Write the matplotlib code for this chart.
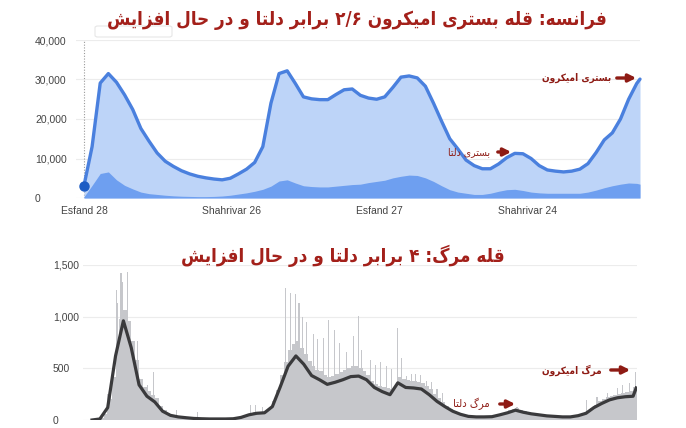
import re
import matplotlib
matplotlib.use('Agg')
import matplotlib.pyplot as plt
from matplotlib.patches import FancyBboxPatch, FancyArrowPatch

W, H = 686, 428

# ---- data: hospitalised (top) ----
hosp_days = list(range(0, 681, 10)) + [684]
hosp_total = [3.1, 13, 29.1, 31.5, 29.3, 26.1, 22.4, 17.6, 14.4, 11.4,
              9.3, 8.0, 6.9, 6.1, 5.5, 5.1, 4.8, 4.6, 5.0, 6.1,
              7.3, 9.0, 13, 24, 31.5, 32.2, 29, 25.6, 25.1, 24.9,
              24.9, 26.2, 27.4, 27.6, 26, 25.3, 25, 25.6, 28, 30.6,
              30.9, 30.4, 28.3, 24, 19.4, 15, 12.4, 9.6, 8.2, 7.4,
              7.4, 8.6, 10.2, 11.3, 11.2, 10, 8.2, 7.1, 6.8, 6.6,
              6.8, 7.3, 8.7, 11.5, 14.7, 16.5, 20, 25, 29, 30.1]
hosp_icu = [0.3, 3.2, 6.2, 6.6, 4.6, 3.2, 2.3, 1.5, 1.1, 0.9,
            0.7, 0.55, 0.45, 0.4, 0.35, 0.35, 0.4, 0.5, 0.7, 1.0,
            1.3, 1.7, 2.2, 3.0, 4.3, 4.6, 3.8, 3.1, 2.9, 2.8,
            2.8, 3.0, 3.2, 3.4, 3.5, 3.9, 4.2, 4.5, 5.1, 5.5,
            5.8, 5.7, 5.1, 4.2, 3.1, 2.1, 1.5, 1.2, 0.9, 0.9,
            1.2, 1.7, 2.1, 2.2, 1.9, 1.5, 1.3, 1.2, 1.2, 1.2,
            1.2, 1.2, 1.5, 2.0, 2.6, 3.1, 3.5, 3.8, 3.7, 3.5]
hosp_ticks = [0, 182, 364, 546]
hosp_ticklabels = ['Esfand 28', 'Shahrivar 26', 'Esfand 27', 'Shahrivar 24']
hosp_yticks = [0, 10000, 20000, 30000, 40000]

# ---- data: deaths (bottom) ----
death_avg_days = list(range(0, 691, 10)) + [694]
death_avg = [0, 10, 120, 620, 960, 700, 340, 230, 175, 85,
             45, 30, 22, 15, 12, 10, 10, 10, 12, 25,
             50, 65, 70, 130, 320, 520, 620, 540, 430, 390,
             345, 365, 390, 420, 425, 390, 315, 275, 245, 360,
             315, 310, 300, 245, 180, 130, 85, 55, 35, 30,
             30, 32, 50, 70, 95, 75, 60, 50, 40, 35,
             30, 30, 42, 65, 120, 160, 195, 215, 225, 230, 310]
death_bar_days = list(range(0, 691, 5))
death_bars = [0, 5, 15, 60, 200, 420, 760, 980, 1060, 960,
              760, 580, 400, 320, 280, 240, 210, 140, 95, 70,
              50, 40, 35, 30, 25, 22, 18, 16, 14, 12,
              12, 11, 11, 10, 12, 12, 15, 22, 30, 45,
              60, 75, 75, 80, 85, 110, 180, 290, 440, 560,
              680, 740, 760, 700, 640, 570, 520, 480, 470, 440,
              420, 430, 450, 460, 480, 500, 520, 520, 500, 470,
              440, 380, 350, 330, 320, 310, 300, 330, 420, 400,
              390, 380, 380, 370, 360, 330, 300, 250, 210, 170,
              140, 110, 90, 70, 58, 48, 42, 36, 33, 31,
              33, 37, 42, 52, 64, 80, 92, 108, 115, 96,
              84, 74, 68, 62, 57, 52, 47, 42, 40, 37,
              36, 36, 40, 45, 55, 66, 88, 120, 150, 180,
              200, 220, 230, 240, 250, 262, 272, 285, 320]
spike_days = [20, 23, 31, 32, 37, 39, 45, 58, 71, 78, 108, 135, 202, 208, 217,
              247, 253, 260, 264, 268, 274, 282, 288, 295, 302, 309,
              316, 324, 333, 340, 344, 355, 361, 368, 375, 382, 389, 395,
              401, 407, 412, 419, 426, 433, 440, 447,
              542, 631, 644, 657, 670, 677, 686, 693]
spike_vals = [250, 360, 1260, 1130, 1420, 1335, 1430, 760, 340, 465, 95, 80, 145, 145, 130,
              1275, 1225, 1220, 1130, 1000, 950, 830, 785, 795, 970, 870,
              745, 655, 815, 1005, 680, 580, 530, 560, 520, 490, 895, 600,
              425, 450, 445, 440, 380, 370, 300, 260,
              130, 195, 225, 260, 310, 340, 355, 460]
death_yticks = [0, 500, 1000, 1500]

title_top = 'فرانسه: قله بستری امیکرون ۲/۶ برابر دلتا و در حال افزایش'
title_bottom = 'قله مرگ: ۴ برابر دلتا و در حال افزایش'
lab_hosp_omicron = 'بستری امیکرون'
lab_hosp_delta = 'بستری دلتا'
lab_death_omicron = 'مرگ امیکرون'
lab_death_delta = 'مرگ دلتا'

# ---- simple Persian shaping (matplotlib has no bidi) ----
FORMS = {
    'ا': ('\uFE8D', '\uFE8E', None, None),
    'ب': ('\uFE8F', '\uFE90', '\uFE91', '\uFE92'),
    'ت': ('\uFE95', '\uFE96', '\uFE97', '\uFE98'),
    'ح': ('\uFEA1', '\uFEA2', '\uFEA3', '\uFEA4'),
    'د': ('\uFEA9', '\uFEAA', None, None),
    'ر': ('\uFEAD', '\uFEAE', None, None),
    'ز': ('\uFEAF', '\uFEB0', None, None),
    'س': ('\uFEB1', '\uFEB2', '\uFEB3', '\uFEB4'),
    'ش': ('\uFEB5', '\uFEB6', '\uFEB7', '\uFEB8'),
    'ف': ('\uFED1', '\uFED2', '\uFED3', '\uFED4'),
    'ق': ('\uFED5', '\uFED6', '\uFED7', '\uFED8'),
    'ل': ('\uFEDD', '\uFEDE', '\uFEDF', '\uFEE0'),
    'م': ('\uFEE1', '\uFEE2', '\uFEE3', '\uFEE4'),
    'ن': ('\uFEE5', '\uFEE6', '\uFEE7', '\uFEE8'),
    'ه': ('\uFEE9', '\uFEEA', '\uFEEB', '\uFEEC'),
    'و': ('\uFEED', '\uFEEE', None, None),
    'ی': ('\uFBFC', '\uFBFD', '\uFBFE', '\uFBFF'),
    'ک': ('\uFB8E', '\uFB8F', '\uFB90', '\uFB91'),
    'گ': ('\uFB92', '\uFB93', '\uFB94', '\uFB95'),
}


def fa(text):
    out = []
    for i, ch in enumerate(text):
        if ch not in FORMS:
            out.append(ch)
            continue
        prev = text[i - 1] if i > 0 else ''
        nxt = text[i + 1] if i + 1 < len(text) else ''
        jp = prev in FORMS and FORMS[prev][2] is not None
        jn = nxt in FORMS and FORMS[ch][2] is not None
        iso, fin, ini, med = FORMS[ch]
        if jp and jn:
            out.append(med)
        elif jp:
            out.append(fin)
        elif jn:
            out.append(ini)
        else:
            out.append(iso)
    s = ''.join(out)
    parts = re.findall(r'[0-9۰-۹/]+|[^0-9۰-۹/]+', s)
    return ''.join(p if re.match(r'[0-9۰-۹]', p) else p[::-1] for p in reversed(parts))


def fx(x):
    return x / W


def fy(y):
    return 1 - y / H


RED = '#a3201a'
DARKRED = '#8e1b14'
plt.rcParams['font.family'] = ['DejaVu Sans']

fig = plt.figure(figsize=(W / 100, H / 100), dpi=100)
fig.patch.set_facecolor('white')

# ---------------- top chart ----------------
ax1 = fig.add_axes([fx(76), fy(198), fx(640) - fx(76), fy(40) - fy(198)])
ax1.set_xlim(-9.8, 684)
ax1.set_ylim(0, 40000)
tot = [v * 1000 for v in hosp_total]
icu = [v * 1000 for v in hosp_icu]
ax1.fill_between(hosp_days, tot, color='#bdd4f8', lw=0, zorder=2)
ax1.fill_between(hosp_days, icu, color='#6e9ff0', lw=0, zorder=3)
ax1.plot(hosp_days, tot, color='#4a80de', lw=2.4, zorder=4, solid_capstyle='round',
         solid_joinstyle='round', clip_on=False)
ax1.plot([hosp_days[0]], [tot[0]], 'o', color='#1d5cc4', ms=6.5, zorder=5, clip_on=False)
ax1.axvline(0, color='#9a9a9a', lw=0.8, ls=(0, (1, 1.5)), zorder=1)
ax1.set_yticks(hosp_yticks)
ax1.set_yticklabels([f'{v:,}' for v in hosp_yticks], ha='left', family='Liberation Sans',
                    fontsize=7.5, color='#444444')
ax1.tick_params(axis='y', length=0, pad=29.5)
ax1.set_xticks(hosp_ticks)
ax1.set_xticklabels(hosp_ticklabels, family='Liberation Sans', fontsize=7.5, color='#444444')
ax1.tick_params(axis='x', length=0, pad=6)
ax1.grid(axis='y', color='#ececec', lw=0.8, zorder=0)
for s in ax1.spines.values():
    s.set_visible(False)
ax1.set_axisbelow(True)

# faint tooltip box at the top
fig.patches.append(FancyBboxPatch((fx(95), fy(37)), fx(172) - fx(95), fy(26) - fy(37),
                                  boxstyle='round,pad=0,rounding_size=0.004',
                                  transform=fig.transFigure, facecolor='white',
                                  edgecolor='#e6e6e6', lw=0.8, zorder=1))

# ---------------- bottom chart ----------------
ax2 = fig.add_axes([fx(83), fy(420), fx(637) - fx(83), fy(265) - fy(420)])
ax2.set_xlim(-11.5, 695)
ax2.set_ylim(0, 1500)
ax2.bar(death_bar_days, death_bars, width=5, align='edge', color='#c6c7cb', lw=0, zorder=2)
ax2.bar(spike_days, spike_vals, width=1.4, color='#c6c7cb', lw=0, zorder=2)
ax2.plot(death_avg_days, death_avg, color='#3a3a3c', lw=2.3, zorder=4, solid_joinstyle='round')
ax2.set_yticks(death_yticks)
ax2.set_yticklabels([f'{v:,}' for v in death_yticks], ha='left', family='Liberation Sans',
                    fontsize=7.5, color='#444444')
ax2.tick_params(axis='y', length=0, pad=21.6)
ax2.set_xticks([])
ax2.grid(axis='y', color='#ececec', lw=0.8, zorder=0)
for s in ax2.spines.values():
    s.set_visible(False)
ax2.set_axisbelow(True)

# ---------------- titles ----------------
fig.text(fx(357), fy(20), fa(title_top), ha='center', va='center', fontsize=13.5,
         fontweight='bold', fontstretch='condensed', color=RED)
fig.text(fx(343), fy(256), fa(title_bottom), ha='center', va='center', fontsize=13.5,
         fontweight='bold', fontstretch='condensed', color=RED)


# ---------------- annotations ----------------
def label(text, x_right, y, x0, x1, size, bold):
    fig.text(fx(x_right), fy(y), fa(text), ha='right', va='center', fontsize=size,
             fontweight='bold' if bold else 'normal', fontstretch='condensed', color=DARKRED)
    fig.add_artist(FancyArrowPatch(
        (fx(x0), fy(y)), (fx(x1), fy(y)), transform=fig.transFigure,
        arrowstyle='-|>', mutation_scale=11, color=DARKRED, lw=2.4))


label(lab_hosp_omicron, 611, 78, 614, 639, 7.2, True)
label(lab_hosp_delta, 490, 152, 495, 514, 7.5, False)
label(lab_death_omicron, 602, 370, 608, 633, 7.2, True)
label(lab_death_delta, 490, 404, 497, 518, 8, False)

fig.savefig('out.png', dpi=100, facecolor='white')
